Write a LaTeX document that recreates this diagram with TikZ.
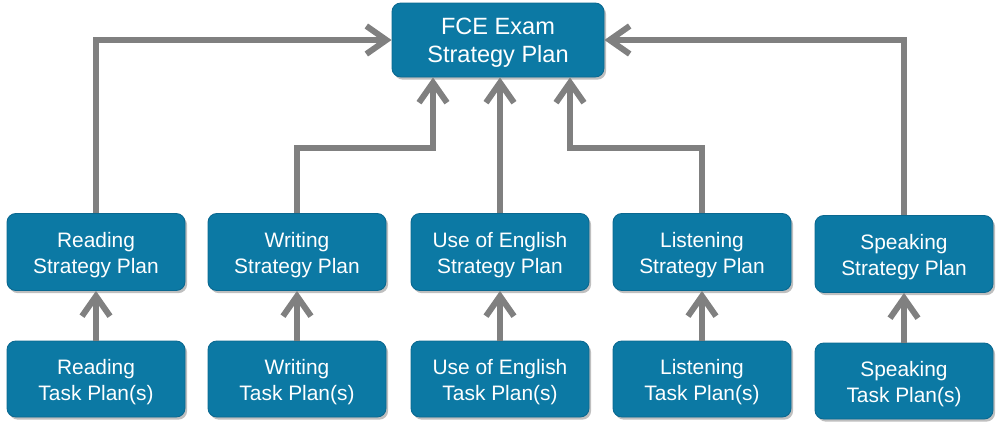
\documentclass[tikz,border=0pt]{standalone}
\usepackage{fontspec}
\setmainfont{Liberation Sans}
\usetikzlibrary{arrows.meta,shadows,calc}
\definecolor{boxblue}{RGB}{12,121,164}
\definecolor{boxedge}{RGB}{10,104,144}
\definecolor{arrowgray}{RGB}{128,128,128}
\tikzset{
  planbox/.style={draw=boxedge, line width=0.5pt, fill=boxblue, rounded corners=5pt,
    minimum width=178*0.02cm, minimum height=77*0.02cm, inner sep=0pt,
    drop shadow={shadow xshift=1.2pt, shadow yshift=-1.5pt, opacity=0.25, fill=black}},
  plantext/.style={align=center, text=white, inner sep=0pt, yshift=-1.8pt,
    font=\fontsize{11.9}{14.7}\selectfont},
  toptext/.style={align=center, text=white, inner sep=0pt, yshift=-1.6pt,
    font=\fontsize{13.4}{15.9}\selectfont},
  conn/.style={draw=arrowgray, line width=6*0.02cm,
    -{Straight Barb[length=20*0.02cm, width=28*0.02cm, line width=6*0.02cm]}}
}
\begin{document}
\begin{tikzpicture}[x=0.02cm, y=-0.02cm]
\useasboundingbox (0,0) rectangle (1000,430);
% top
\node[planbox, minimum width=212*0.02cm, minimum height=74*0.02cm,
  label={[toptext]center:{FCE Exam\\Strategy Plan}}] (top) at (498,40) {};
% strategy
\node[planbox, label={[plantext]center:{Reading\\Strategy Plan}}] (rs) at (96,252) {};
\node[planbox, label={[plantext]center:{Writing\\Strategy Plan}}] (ws) at (297,252) {};
\node[planbox, label={[plantext]center:{Use of English\\Strategy Plan}}] (us) at (500,252) {};
\node[planbox, label={[plantext]center:{Listening\\Strategy Plan}}] (ls) at (702,252) {};
\node[planbox, label={[plantext]center:{Speaking\\Strategy Plan}}] (ss) at (904,254) {};
% task
\node[planbox, minimum height=76*0.02cm, label={[plantext]center:{Reading\\Task Plan(s)}}] (rt) at (96,379) {};
\node[planbox, minimum height=76*0.02cm, label={[plantext]center:{Writing\\Task Plan(s)}}] (wt) at (297,379) {};
\node[planbox, minimum height=76*0.02cm, label={[plantext]center:{Use of English\\Task Plan(s)}}] (ut) at (500,379) {};
\node[planbox, minimum height=76*0.02cm, label={[plantext]center:{Listening\\Task Plan(s)}}] (lt) at (702,379) {};
\node[planbox, minimum height=76*0.02cm, label={[plantext]center:{Speaking\\Task Plan(s)}}] (st) at (904,381) {};
% bends
\coordinate (wbend) at (433,148);
\coordinate (lbend) at (570,148);
% connectors
\draw[conn] (rs.north) |- (top.west);
\draw[conn] (ss.north) |- (top.east);
\draw[conn] (ws.north) |- (wbend) -- (wbend |- top.south);
\draw[conn] (us.north) -- (us.north |- top.south);
\draw[conn] (ls.north) |- (lbend) -- (lbend |- top.south);
\draw[conn] (rt.north) -- (rs.south);
\draw[conn] (wt.north) -- (ws.south);
\draw[conn] (ut.north) -- (us.south);
\draw[conn] (lt.north) -- (ls.south);
\draw[conn] (st.north) -- (ss.south);
\end{tikzpicture}
\end{document}
